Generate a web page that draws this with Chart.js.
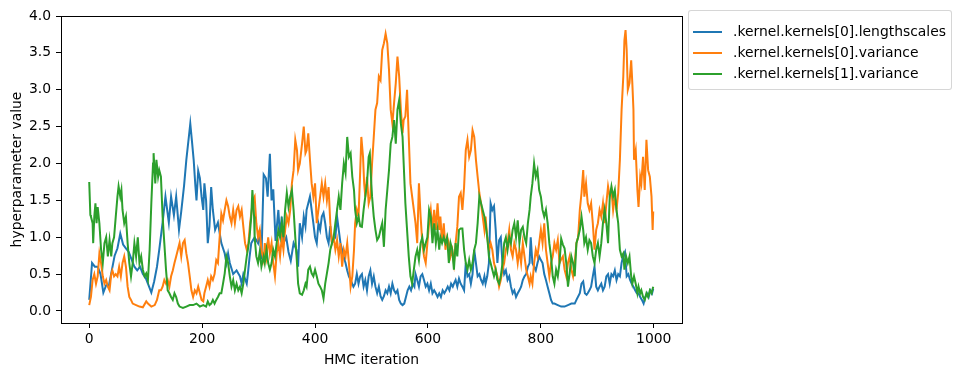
<!DOCTYPE html>
<html>
<head>
<meta charset="utf-8">
<script src="https://cdn.jsdelivr.net/npm/chart.js@4/dist/chart.umd.min.js"></script>
<style>
  html, body { margin: 0; padding: 0; background: #fff; }
  #wrap { position: relative; width: 960px; height: 376px; }
  #legend {
    position: absolute; left: 688px; top: 10px; width: 262px; height: 78px;
    border: 1px solid rgba(204,204,204,0.8); border-radius: 3px; background: rgba(255,255,255,0.8);
    font-family: "DejaVu Sans", sans-serif; font-size: 13.9px; color: #000;
  }
  .row { position: absolute; left: 0; height: 20px; width: 100%; }
  .swatch { position: absolute; left: 4px; top: 9px; width: 29px; height: 2px; }
  .label { position: absolute; left: 44px; top: 1px; white-space: nowrap; }
</style>
</head>
<body>
<div id="wrap">
  <canvas id="chart" width="960" height="376"></canvas>
  <div id="legend"></div>
</div>
<script>
// trace values, [iteration, value]
const lengthscales = [[0,0.15],[3,0.45],[5,0.65],[10,0.6],[15,0.6],[20,0.5],[25,0.25],[30,0.35],[35,0.35],[40,0.55],[45,0.75],[50,0.85],[55,1.05],[60,0.9],[65,0.85],[70,0.8],[75,0.7],[80,0.6],[85,0.55],[90,0.6],[95,0.5],[100,0.45],[105,0.35],[110,0.25],[115,0.4],[120,0.6],[124,0.83],[130,1.2],[135,1.55],[141,1.2],[145,1.55],[150,1.3],[154,1.55],[159,1.1],[163,1.35],[168,1.7],[172,2.05],[177,2.4],[179,2.54],[182,2.3],[185,2.05],[188,1.7],[190,1.5],[193,1.9],[196,1.8],[199,1.55],[202,1.37],[204,1.73],[207,1.5],[210,0.92],[213,1.15],[216,1.68],[219,1.37],[223,1.1],[228,1.2],[234,0.92],[240,0.78],[243,0.65],[246,0.78],[249,0.65],[255,0.5],[261,0.55],[267,0.47],[270,0.37],[273,0.5],[279,0.37],[281,0.5],[284,0.73],[287,0.92],[293,1.0],[299,0.92],[302,1.1],[305,0.7],[309,1.85],[313,1.8],[316,1.55],[320,2.13],[323,1.5],[326,1.65],[330,0.95],[335,1.37],[338,1.0],[341,1.28],[344,0.92],[349,1.0],[353,0.8],[357,0.68],[362,0.92],[367,0.83],[370,0.6],[373,1.19],[377,1.0],[380,1.28],[383,1.15],[385,1.37],[388,1.46],[391,1.55],[394,1.37],[397,1.19],[400,1.0],[403,0.92],[406,1.19],[409,1.1],[412,1.28],[415,1.33],[418,1.19],[421,1.0],[424,0.92],[427,1.15],[430,0.92],[436,1.0],[439,1.28],[442,1.1],[445,0.92],[448,0.83],[451,0.73],[454,0.65],[457,0.55],[460,0.47],[463,0.42],[468,0.33],[471,0.37],[474,0.5],[477,0.37],[480,0.47],[483,0.5],[486,0.33],[489,0.42],[492,0.28],[495,0.47],[498,0.55],[501,0.37],[504,0.47],[507,0.33],[510,0.24],[513,0.33],[516,0.2],[519,0.15],[522,0.2],[525,0.28],[528,0.24],[531,0.33],[534,0.24],[537,0.37],[540,0.28],[543,0.24],[546,0.28],[549,0.15],[552,0.1],[555,0.08],[558,0.1],[561,0.19],[564,0.28],[567,0.33],[570,0.28],[573,0.37],[576,0.33],[578,0.5],[581,0.42],[584,0.33],[587,0.47],[590,0.5],[593,0.42],[596,0.33],[599,0.37],[602,0.28],[605,0.37],[608,0.24],[611,0.28],[614,0.24],[617,0.19],[620,0.24],[623,0.19],[626,0.28],[629,0.24],[632,0.28],[635,0.33],[638,0.28],[641,0.37],[644,0.33],[646,0.37],[649,0.42],[652,0.33],[655,0.44],[658,0.37],[661,0.33],[664,0.28],[667,0.65],[670,0.47],[673,0.5],[676,0.37],[679,0.5],[682,0.83],[685,0.65],[688,0.47],[691,0.5],[694,0.42],[697,0.37],[700,0.47],[702,0.37],[705,0.47],[708,0.65],[711,1.46],[714,1.37],[717,1.42],[720,1.1],[723,0.65],[726,0.96],[729,1.0],[732,0.65],[735,0.5],[738,0.55],[741,0.42],[744,0.47],[747,0.33],[750,0.24],[753,0.28],[756,0.19],[759,0.24],[762,0.28],[765,0.33],[768,0.42],[771,0.47],[774,0.5],[777,0.6],[780,0.65],[782,1.0],[785,0.65],[788,0.6],[791,0.55],[794,0.65],[797,0.74],[800,0.69],[803,0.65],[806,0.5],[809,0.42],[812,0.33],[815,0.24],[818,0.15],[821,0.1],[824,0.1],[830,0.08],[836,0.06],[842,0.06],[848,0.08],[854,0.1],[860,0.1],[863,0.15],[869,0.24],[872,0.37],[875,0.4],[878,0.24],[881,0.22],[883,0.24],[886,0.28],[889,0.33],[892,0.47],[895,0.6],[898,0.33],[901,0.28],[904,0.33],[907,0.37],[910,0.28],[913,0.33],[916,0.47],[919,0.5],[922,0.37],[925,0.5],[928,0.47],[931,0.55],[934,0.42],[937,0.5],[940,0.47],[943,0.65],[946,0.75],[949,0.8],[952,0.47],[955,0.5],[958,0.42],[961,0.37],[964,0.33],[967,0.28],[970,0.24],[973,0.24],[976,0.19],[979,0.15],[982,0.1],[985,0.19],[988,0.24],[991,0.19],[994,0.28],[997,0.24],[999,0.3]];

const variance0 = [[0,0.08],[3,0.19],[6,0.42],[9,0.5],[12,0.37],[15,0.47],[18,0.78],[21,0.65],[24,0.47],[27,0.37],[30,0.42],[33,0.33],[36,0.28],[39,0.5],[41,0.55],[44,0.47],[47,0.5],[50,0.47],[53,0.6],[56,0.47],[59,0.65],[62,0.74],[65,0.6],[68,0.33],[71,0.19],[74,0.15],[77,0.1],[83,0.08],[89,0.06],[95,0.05],[101,0.13],[104,0.1],[110,0.06],[116,0.08],[120,0.15],[124,0.28],[127,0.28],[130,0.33],[133,0.42],[136,0.37],[139,0.42],[142,0.33],[145,0.47],[148,0.55],[151,0.65],[154,0.74],[157,0.83],[160,0.92],[163,0.74],[166,0.92],[169,0.96],[172,0.78],[175,0.65],[178,0.47],[181,0.28],[184,0.19],[187,0.28],[190,0.24],[193,0.33],[196,0.24],[199,0.15],[202,0.13],[204,0.24],[207,0.33],[210,0.42],[213,0.33],[216,0.47],[219,0.42],[222,0.5],[225,0.69],[228,0.65],[231,1.0],[234,1.32],[237,1.23],[240,1.37],[243,1.5],[246,1.42],[249,1.28],[252,1.19],[255,1.37],[258,1.19],[261,1.37],[264,1.42],[267,1.28],[270,1.37],[273,1.14],[276,0.92],[279,0.83],[282,0.92],[285,1.19],[290,1.5],[293,1.55],[296,1.19],[299,1.0],[302,1.1],[305,0.83],[309,0.69],[311,0.92],[314,0.74],[317,1.0],[320,0.78],[323,0.92],[326,0.65],[329,0.47],[332,0.78],[335,0.92],[338,0.74],[341,1.0],[344,0.83],[347,1.1],[350,1.28],[353,1.19],[356,1.37],[359,1.73],[362,1.91],[365,2.32],[368,2.18],[370,1.91],[373,2.0],[377,2.27],[380,2.5],[383,2.14],[385,2.18],[388,2.41],[391,2.05],[394,1.73],[397,1.55],[400,1.73],[403,1.19],[406,1.37],[409,1.55],[412,1.73],[415,1.55],[418,1.73],[421,1.5],[424,1.68],[427,1.19],[430,0.92],[433,1.0],[436,0.83],[439,0.96],[442,0.74],[445,0.92],[448,0.6],[451,0.83],[454,0.74],[457,0.92],[460,0.65],[463,0.33],[466,0.47],[469,0.83],[471,1.19],[474,1.37],[477,1.28],[480,1.9],[482,2.36],[485,2.09],[487,1.73],[489,1.55],[492,1.82],[495,1.46],[498,1.55],[501,2.0],[504,2.36],[507,2.73],[510,2.82],[513,3.18],[516,3.13],[519,3.54],[522,3.63],[525,3.76],[528,3.63],[531,3.27],[534,2.73],[537,2.54],[540,2.82],[543,3.09],[546,3.45],[549,3.18],[552,2.73],[555,2.41],[557,2.59],[560,2.64],[563,3.0],[566,2.36],[569,1.73],[572,1.55],[575,1.37],[578,1.19],[581,0.92],[584,1.73],[587,1.28],[590,0.92],[593,0.74],[596,0.65],[599,0.92],[602,1.19],[605,1.37],[608,1.1],[611,1.37],[614,1.1],[617,1.46],[620,1.1],[622,1.28],[625,0.92],[628,1.19],[631,0.83],[634,1.0],[637,0.92],[640,0.74],[643,0.83],[646,0.65],[649,0.92],[652,1.14],[655,1.55],[658,1.6],[661,1.37],[664,1.68],[667,2.18],[670,2.32],[673,2.09],[676,2.18],[679,2.45],[682,2.36],[685,2.05],[688,1.82],[691,1.6],[694,1.46],[697,1.28],[700,1.1],[702,1.28],[705,1.0],[708,0.83],[711,0.92],[714,0.83],[717,0.65],[720,0.56],[723,0.47],[726,0.33],[729,0.42],[732,0.56],[735,0.65],[738,0.83],[741,0.92],[744,1.1],[747,0.83],[750,0.74],[753,0.92],[756,0.83],[759,0.65],[762,0.83],[765,0.65],[768,0.92],[771,0.74],[774,0.56],[777,0.47],[780,0.37],[782,0.47],[785,0.37],[788,0.65],[791,0.83],[794,0.74],[797,0.92],[800,1.1],[803,0.92],[806,1.19],[809,0.83],[812,0.65],[815,0.47],[818,0.65],[821,0.74],[824,0.92],[827,0.83],[830,0.96],[833,0.65],[836,0.7],[839,0.74],[842,0.56],[845,0.47],[848,0.65],[851,0.74],[854,0.56],[857,0.47],[860,0.65],[863,0.92],[866,1.0],[869,1.37],[872,1.6],[875,1.91],[877,1.55],[880,1.73],[883,1.46],[886,1.37],[889,1.46],[892,1.19],[895,0.83],[898,1.1],[901,1.19],[904,1.37],[907,1.28],[910,1.46],[913,1.19],[916,1.46],[919,1.69],[922,1.55],[925,1.64],[928,1.37],[931,1.55],[934,1.37],[937,1.6],[940,2.05],[943,2.73],[946,3.18],[948,3.67],[950,3.81],[952,3.54],[954,3.0],[957,3.09],[960,3.4],[962,3.09],[964,2.73],[965,2.05],[968,2.18],[971,1.64],[973,1.41],[976,1.82],[978,1.73],[981,2.09],[984,1.64],[987,2.32],[990,1.91],[993,1.82],[996,1.55],[998,1.1],[999,1.35]];

const variance1 = [[0,1.75],[2,1.3],[3,1.28],[6,1.19],[7,0.92],[9,1.28],[11,1.46],[13,1.19],[15,1.41],[18,1.19],[21,0.83],[24,0.65],[27,0.92],[30,1.0],[33,0.74],[36,0.96],[39,0.74],[41,0.92],[44,1.0],[47,1.28],[50,1.55],[52,1.69],[55,1.55],[57,1.64],[59,1.37],[62,1.19],[65,1.28],[68,0.92],[71,0.65],[74,0.47],[77,0.65],[80,0.92],[83,0.74],[86,1.0],[89,0.65],[92,0.74],[95,0.56],[98,0.47],[101,0.51],[104,0.42],[107,0.83],[110,1.46],[113,2.0],[114,2.14],[117,1.73],[119,2.05],[122,1.82],[124,1.91],[127,1.82],[130,1.28],[133,0.92],[136,0.56],[139,0.28],[142,0.24],[145,0.19],[148,0.15],[151,0.24],[154,0.19],[157,0.1],[160,0.06],[166,0.04],[172,0.06],[178,0.08],[184,0.08],[190,0.1],[196,0.06],[202,0.08],[207,0.06],[210,0.13],[213,0.08],[216,0.1],[219,0.15],[222,0.1],[225,0.15],[228,0.19],[231,0.24],[234,0.24],[237,0.37],[240,0.51],[243,0.74],[246,0.65],[249,0.47],[252,0.33],[255,0.42],[258,0.28],[261,0.37],[264,0.28],[267,0.33],[270,0.24],[273,0.37],[276,0.56],[279,0.74],[281,0.83],[284,1.0],[287,1.28],[289,1.64],[292,1.28],[293,1.0],[296,0.74],[299,0.65],[302,0.8],[305,0.6],[309,0.74],[311,0.65],[314,0.83],[317,0.65],[320,0.56],[323,0.65],[326,0.83],[329,0.74],[332,0.92],[335,1.1],[338,1.0],[341,1.19],[344,1.0],[347,1.37],[350,1.6],[353,1.41],[356,1.55],[359,1.64],[362,1.37],[365,1.0],[368,0.65],[370,0.37],[373,0.24],[377,0.22],[380,0.28],[383,0.37],[385,0.33],[388,0.56],[391,0.6],[394,0.51],[397,0.47],[400,0.56],[403,0.47],[406,0.37],[409,0.33],[412,0.28],[415,0.17],[418,0.37],[421,0.51],[424,0.65],[427,0.83],[430,0.92],[433,1.0],[436,1.19],[439,1.37],[442,1.55],[445,1.37],[448,1.73],[451,2.0],[454,1.87],[457,2.36],[460,2.09],[463,2.14],[466,1.82],[469,1.64],[471,1.37],[474,1.19],[477,1.28],[480,1.15],[483,1.14],[486,1.37],[489,1.55],[492,1.73],[495,2.09],[497,2.14],[499,1.82],[501,1.55],[504,1.28],[507,1.1],[510,0.96],[513,1.0],[516,1.1],[519,1.19],[522,0.87],[525,1.37],[528,1.64],[531,1.91],[534,2.27],[537,2.36],[540,2.59],[543,2.27],[546,2.73],[549,2.86],[552,2.54],[555,2.36],[557,2.0],[560,1.46],[563,1.1],[566,0.74],[569,0.47],[572,0.37],[575,0.56],[578,0.74],[581,0.83],[584,0.69],[587,0.92],[590,1.0],[593,0.83],[596,0.92],[599,1.0],[602,1.37],[605,1.28],[608,0.92],[611,1.19],[614,0.92],[617,1.1],[620,0.83],[622,1.0],[625,0.92],[628,1.0],[631,0.92],[634,1.0],[637,0.65],[640,0.92],[643,0.83],[646,0.56],[649,0.92],[652,0.74],[655,1.1],[658,1.12],[661,1.12],[664,0.83],[667,0.65],[670,0.56],[673,0.69],[676,0.56],[679,0.65],[682,0.83],[685,0.92],[688,1.19],[691,1.55],[694,1.46],[697,1.37],[700,1.28],[702,1.19],[705,1.0],[708,0.74],[711,0.65],[714,0.56],[717,0.47],[720,0.56],[723,0.42],[726,0.37],[729,0.47],[732,0.65],[735,0.92],[738,1.0],[741,0.83],[744,1.0],[747,0.92],[750,1.1],[753,1.19],[756,1.0],[759,1.23],[762,0.92],[765,1.1],[768,1.14],[771,1.0],[774,0.92],[777,1.19],[780,1.37],[782,1.55],[785,1.73],[788,2.0],[791,1.82],[794,1.91],[797,1.64],[800,1.55],[803,1.37],[806,1.28],[809,1.37],[812,1.19],[815,0.92],[818,0.74],[821,0.47],[824,0.37],[827,0.56],[830,0.47],[833,0.65],[836,0.98],[839,0.9],[842,0.85],[845,0.65],[848,0.33],[851,0.51],[854,0.74],[857,0.65],[860,0.47],[863,0.92],[866,1.0],[869,1.1],[872,1.28],[875,1.1],[877,0.92],[880,1.0],[883,0.83],[886,0.96],[889,0.92],[892,0.74],[895,0.65],[898,0.83],[901,0.92],[904,0.74],[907,0.92],[910,1.19],[913,1.37],[916,1.19],[919,0.92],[922,1.55],[925,1.69],[928,1.55],[931,1.64],[934,1.37],[937,1.19],[940,0.83],[943,0.74],[946,0.78],[948,0.56],[951,0.74],[954,0.65],[957,0.74],[960,0.47],[962,0.37],[965,0.47],[968,0.37],[971,0.24],[973,0.33],[976,0.24],[978,0.28],[981,0.19],[984,0.15],[987,0.24],[990,0.19],[993,0.28],[996,0.24],[999,0.33]];

const seriesNames = ['.kernel.kernels[0].lengthscales', '.kernel.kernels[0].variance', '.kernel.kernels[1].variance'];
const seriesColors = ['#1f77b4', '#ff7f0e', '#2ca02c'];
const xTicks = [0, 200, 400, 600, 800, 1000];
const yTicks = [0, 0.5, 1.0, 1.5, 2.0, 2.5, 3.0, 3.5, 4.0];

const FONT = { family: '"DejaVu Sans", sans-serif', size: 13.9 };
Chart.defaults.color = '#000';
Chart.defaults.font = FONT;

const frame = {
    id: 'frame',
    afterDraw(chart) {
        const a = chart.chartArea, c = chart.ctx;
        c.save();
        c.strokeStyle = '#000';
        c.lineWidth = 1;
        c.strokeRect(Math.round(a.left) + 0.5, Math.round(a.top) + 0.5, Math.round(a.right - a.left), Math.round(a.bottom - a.top));
        c.restore();
    }
};

const all = [lengthscales, variance0, variance1];
const datasets = all.map((s, i) => ({
    label: seriesNames[i],
    data: s.map(p => ({ x: p[0], y: p[1] })),
    borderColor: seriesColors[i],
    borderWidth: 2,
    pointRadius: 0,
    tension: 0,
    order: 3 - i
}));

new Chart(document.getElementById('chart'), {
    type: 'line',
    data: { datasets },
    options: {
        responsive: false,
        animation: false,
        layout: { padding: { left: 0, top: 16, right: 278, bottom: 0 } },
        plugins: { legend: { display: false }, tooltip: { enabled: false } },
        scales: {
            x: {
                type: 'linear', min: -50, max: 1050,
                afterBuildTicks: s => { s.ticks = xTicks.map(v => ({ value: v })); },
                afterFit: s => { s.height = 53; },
                ticks: { padding: 3, maxRotation: 0, callback: v => String(v) },
                grid: { drawOnChartArea: false, tickLength: 5, tickColor: '#000' },
                border: { color: '#000' },
                title: { display: true, text: 'HMC iteration', padding: { top: 0, bottom: 7 } }
            },
            y: {
                type: 'linear', min: -0.163, max: 4.0,
                afterBuildTicks: s => { s.ticks = yTicks.map(v => ({ value: v })); },
                afterFit: s => { s.width = 61; },
                ticks: { padding: 5, callback: v => v.toFixed(1) },
                grid: { drawOnChartArea: false, tickLength: 5, tickColor: '#000' },
                border: { color: '#000' },
                title: { display: true, text: 'hyperparameter value', padding: { top: 9, bottom: 0 } }
            }
        }
    },
    plugins: [frame]
});

const legend = document.getElementById('legend');
seriesNames.forEach((name, i) => {
    const row = document.createElement('div');
    row.className = 'row';
    row.style.top = (11 + i * 21) + 'px';
    const sw = document.createElement('div');
    sw.className = 'swatch';
    sw.style.background = seriesColors[i];
    const lb = document.createElement('span');
    lb.className = 'label';
    lb.textContent = name;
    row.append(sw, lb);
    legend.appendChild(row);
});
</script>
</body>
</html>
